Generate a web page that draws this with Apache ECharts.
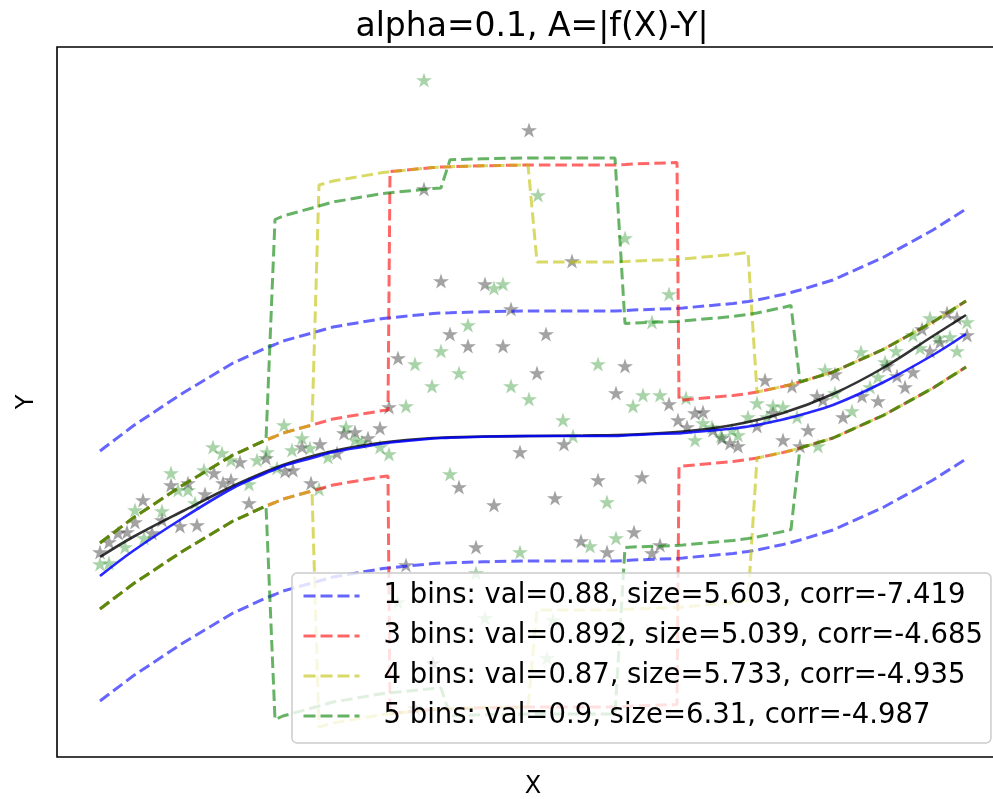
<!DOCTYPE html>
<html><head><meta charset="utf-8">
<script src="https://cdn.jsdelivr.net/npm/echarts@6/dist/echarts.min.js"></script>
<style>html,body{margin:0;padding:0;background:#fff}#c{width:993px;height:799px}</style>
</head><body><div id="c"></div>
<script>
// common x grid for the fitted curve and the interval bands
const gridX = [-4.33,-4,-3.5,-3,-2.67,-2.58,-2.5,-2.21,-2.14,-2,-1.5,-1.45,-1.43,-1,-0.92,-0.83,-0.5,-0.05,0.04,0.5,0.82,0.92,1,1.44,1.46,1.5,2,2.15,2.24,2.5,2.58,2.67,3,3.5,4,4.33];
// fitted f(X) (blue solid)
const fitY = [-2.80,-2.30,-1.64,-1.04,-0.74,-0.67,-0.60,-0.44,-0.40,-0.32,-0.15,-0.14,-0.13,-0.05,-0.04,-0.035,-0.015,0,0,0,0,0.01,0.02,0.05,0.05,0.06,0.15,0.19,0.22,0.33,0.37,0.42,0.62,1.07,1.62,2.04];
// true function (black solid)
const trueX = [-4.33,-4,-3.5,-3,-2.5,-2,-1.5,-1,-0.5,0,0.5,1,1.5,2,2.5,3,3.5,4,4.33];
const trueY = [-2.42,-2.02,-1.50,-1.00,-0.58,-0.30,-0.13,-0.04,-0.01,0,0.01,0.03,0.09,0.22,0.46,0.84,1.36,2.00,2.42];
// bin edges (in X) and interval half-widths per bin
const edges1 = [];                         const half1 = [2.50];
const edges3 = [-1.44, 1.45];              const half3 = [0.66, 5.42, 0.66];
const edges4 = [-2.175, -0.005, 2.195];    const half4 = [0.66, 5.42, 3.48, 0.66];
const edges5 = [-2.625, -0.875, 0.87, 2.625]; const half5 = [0.66, 5.00, 5.56, 2.24, 0.66];
const legendLabels = [
  '1 bins: val=0.88, size=5.603, corr=-7.419',
  '3 bins: val=0.892, size=5.039, corr=-4.685',
  '4 bins: val=0.87, size=5.733, corr=-4.935',
  '5 bins: val=0.9, size=6.31, corr=-4.987'
];
// scatter points
const grayPoints = [[-0.04,6.12],[-1.09,4.94],[-0.92,3.10],[-0.48,3.04],[-0.22,2.54],[-0.83,2.04],[-0.65,1.80],[-0.30,1.80],[0.13,2.04],[-1.35,1.56],[0.39,3.50],[0.04,1.26],[0.92,1.40],[0.83,0.86],[1.36,0.64],[-1.44,0.58],[-1.53,0.16],[-1.89,0.06],[-1.78,0.08],[-1.65,-0.04],[-1.96,-0.34],[-2.13,-0.16],[-2.31,-0.22],[-2.48,-0.70],[-2.40,-0.68],[-2.22,-0.94],[-2.67,-0.44],[-2.84,-1.34],[-2.93,-0.52],[-3.10,-0.94],[-3.02,-0.88],[-3.19,-0.74],[-3.28,-1.16],[-3.45,-0.94],[-3.53,-1.80],[-3.36,-1.78],[-3.62,-0.98],[-3.71,-1.68],[-3.81,-1.94],[-3.90,-1.28],[-3.98,-1.72],[-4.06,-1.92],[-4.15,-1.94],[-4.24,-2.12],[-4.33,-2.32],[-0.13,-0.32],[0.31,-0.16],[-0.74,-1.02],[-0.39,-1.38],[0.22,-1.24],[0.65,-0.88],[1.09,-0.82],[-0.57,-2.22],[0.48,-2.10],[1.01,-1.92],[0.74,-2.32],[1.27,-2.18],[1.19,-2.34],[-1.27,-2.58],[-1.00,-4.54],[-1.18,-5.44],[1.45,0.32],[1.54,0.18],[1.62,0.46],[1.70,0.48],[1.80,0.12],[1.89,-0.04],[1.97,-0.14],[2.05,-0.20],[2.24,0.20],[2.32,1.12],[2.40,0.46],[2.50,-0.08],[2.59,1.00],[2.67,-0.20],[2.75,0.12],[2.84,0.80],[2.90,0.72],[3.02,1.24],[3.10,0.38],[3.29,0.80],[3.45,0.70],[3.54,1.40],[3.64,1.20],[3.72,0.98],[3.80,1.28],[3.89,2.14],[3.97,1.70],[4.07,1.88],[4.14,2.46],[4.24,2.36],[4.34,2.02]];
const greenPoints = [[-1.09,7.12],[0.05,4.82],[0.92,3.96],[1.36,2.84],[-0.39,2.96],[-0.30,3.04],[-0.65,2.22],[1.19,2.28],[-0.92,1.70],[-1.18,1.44],[-0.74,1.26],[-1.01,1.00],[-0.22,1.00],[0.65,1.44],[-0.04,0.74],[-1.27,0.60],[1.10,0.82],[1.27,0.82],[1.53,0.76],[1.00,0.60],[0.30,0.32],[0.40,0.00],[-1.44,-0.36],[-0.83,-0.76],[-0.13,-2.32],[-0.57,-2.74],[0.74,-1.32],[0.57,-2.20],[0.83,-2.04],[-1.35,-3.32],[-0.48,-3.64],[0.20,-3.68],[0.14,-4.44],[-4.33,-2.56],[-4.24,-2.54],[-4.08,-2.22],[-3.98,-1.48],[-3.89,-2.04],[-3.71,-1.50],[-3.62,-0.74],[-3.55,-1.08],[-3.45,-1.08],[-3.38,-1.34],[-3.29,-0.68],[-3.20,-0.22],[-3.11,-0.34],[-3.02,-0.48],[-2.84,-0.96],[-2.76,-0.48],[-2.66,-0.32],[-2.56,-0.64],[-2.49,0.22],[-2.41,-0.28],[-2.31,-0.04],[-2.23,-0.24],[-2.14,-1.06],[-2.05,-0.42],[-1.87,0.18],[-1.78,-0.08],[-1.71,-0.12],[-1.53,-0.22],[1.62,-0.08],[1.70,0.26],[1.79,0.18],[1.88,0.00],[1.99,0.12],[2.05,0.02],[2.15,0.38],[2.24,0.66],[2.34,0.38],[2.40,0.60],[2.50,0.58],[2.64,0.38],[2.85,-0.20],[2.92,1.32],[3.02,0.86],[3.19,0.50],[3.28,1.68],[3.37,0.98],[3.45,1.18],[3.52,1.48],[3.63,1.70],[3.80,2.02],[3.87,1.76],[3.97,2.36],[4.05,1.96],[4.17,1.98],[4.24,1.70],[4.34,2.28]];

function binIndex(x, edges) { let k = 0; while (k < edges.length && x > edges[k]) k++; return k; }
function band(edges, half) {
  const up = gridX.map((x, i) => [x, fitY[i] + half[binIndex(x, edges)]]);
  const lo = gridX.map((x, i) => [x, fitY[i] - half[binIndex(x, edges)]]);
  return up.concat([['-', '-']], lo);
}
const star = 'path://M0,-10 L2.245,-3.09 L9.511,-3.09 L3.633,1.18 L5.878,8.09 L0,3.82 L-5.878,8.09 L-3.633,1.18 L-9.511,-3.09 L-2.245,-3.09 Z';
const FONT = '"DejaVu Sans", sans-serif';
const dash = [11.5, 5];
function bandSeries(name, color, edges, half) {
  return { name, type: 'line', data: band(edges, half), symbol: 'none', smooth: false, connectNulls: false,
    lineStyle: { color, width: 3, type: dash }, itemStyle: { color }, z: 3 };
}

const chart = echarts.init(document.getElementById('c'), null, { renderer: 'canvas' });
chart.setOption({
  animation: false,
  backgroundColor: '#fff',
  grid: { left: 57, top: 47, width: 951, height: 710, outerBoundsMode: 'none', containLabel: false,
    show: true, borderColor: '#000', borderWidth: 1.6, backgroundColor: 'transparent' },
  xAxis: { type: 'value', min: -4.76, max: 4.75, axisLine: { show: false }, axisTick: { show: false }, axisLabel: { show: false }, splitLine: { show: false } },
  yAxis: { type: 'value', min: -6.42, max: 7.78, axisLine: { show: false }, axisTick: { show: false }, axisLabel: { show: false }, splitLine: { show: false } },
  legend: {
    data: legendLabels, orient: 'vertical', left: 292, top: 573,
    padding: [8, 8, 12, 10], itemWidth: 56, itemHeight: 14, itemGap: 10,
    backgroundColor: 'rgba(255,255,255,0.8)', borderColor: '#cccccc', borderWidth: 1.5, borderRadius: 5,
    selectedMode: false,
    itemStyle: { opacity: 0 },
    lineStyle: { width: 3, type: [12, 5], opacity: 1 },
    textStyle: { fontFamily: FONT, fontSize: 27.5, color: '#000', lineHeight: 30, padding: [0, 0, 0, 19] }
  },
  graphic: [
    { type: 'text', x: 532, y: 27, style: { text: 'alpha=0.1, A=|f(X)-Y|', font: '33px ' + FONT, fill: '#000', align: 'center', verticalAlign: 'middle' } },
    { type: 'text', x: 533, y: 787, style: { text: 'X', font: '24px ' + FONT, fill: '#000', align: 'center', verticalAlign: 'middle' } },
    { type: 'text', x: 27, y: 402, rotation: Math.PI / 2, style: { text: 'Y', font: '24px ' + FONT, fill: '#000', align: 'center', verticalAlign: 'middle' } }
  ],
  series: [
    { type: 'scatter', data: grayPoints, symbol: star, symbolSize: [16, 15.2], itemStyle: { color: 'rgba(0,0,0,0.45)' }, z: 2 },
    { type: 'scatter', data: greenPoints, symbol: star, symbolSize: [16, 15.2], itemStyle: { color: 'rgba(0,128,0,0.42)' }, z: 2 },
    bandSeries(legendLabels[0], 'rgba(0,0,255,0.6)', edges1, half1),
    bandSeries(legendLabels[1], 'rgba(255,0,0,0.6)', edges3, half3),
    bandSeries(legendLabels[2], 'rgba(191,191,0,0.6)', edges4, half4),
    bandSeries(legendLabels[3], 'rgba(0,128,0,0.6)', edges5, half5),
    { type: 'line', data: trueX.map((x, i) => [x, trueY[i]]), symbol: 'none', smooth: 0.35,
      lineStyle: { color: 'rgba(0,0,0,0.8)', width: 2.6 }, z: 3 },
    { type: 'line', data: gridX.map((x, i) => [x, fitY[i]]), symbol: 'none', smooth: 0.35,
      lineStyle: { color: 'rgba(0,0,255,0.85)', width: 2.6 }, z: 3 }
  ]
});
</script></body></html>
